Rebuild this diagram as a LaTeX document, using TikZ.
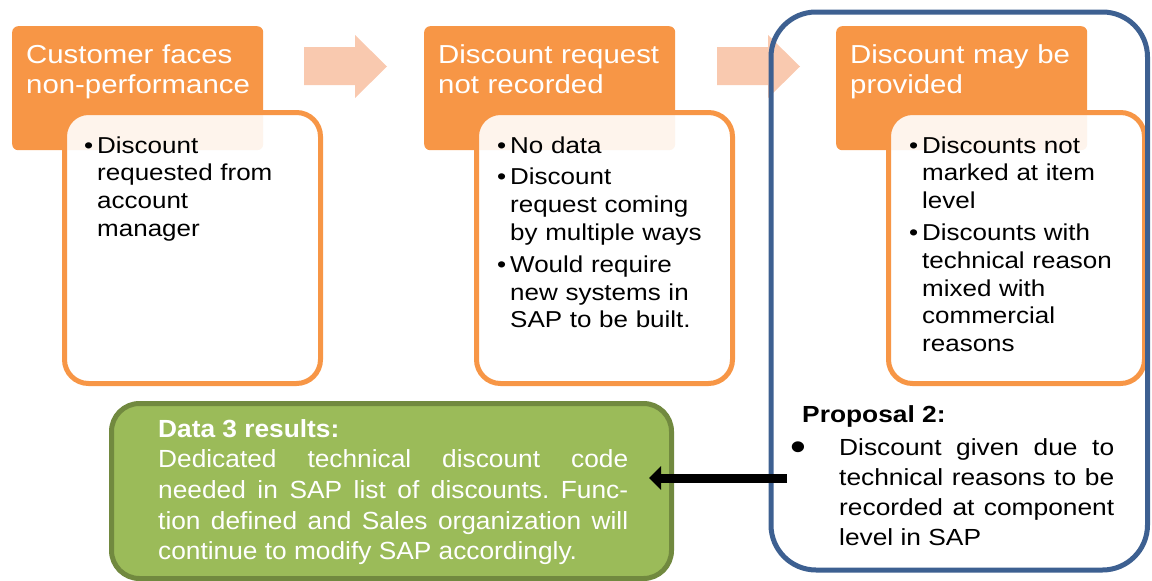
\documentclass[tikz,border=0pt]{standalone}
\usepackage{fontspec}
\setmainfont{Liberation Sans}[FakeStretch=1.13]
\newfontfamily\narrowsans{Liberation Sans}[FakeStretch=1.06]
\usepackage{xcolor}
\usetikzlibrary{arrows.meta}
\setlength{\parindent}{0pt}
\frenchspacing

\definecolor{headorange}{RGB}{247,150,70}
\definecolor{flowpeach}{RGB}{249,201,175}
\definecolor{frameblue}{RGB}{61,96,145}
\definecolor{resgreen}{RGB}{155,187,89}
\definecolor{resgreenline}{RGB}{113,137,63}

\newcommand{\itembul}{\leavevmode\llap{\textbullet\kern4pt}}

\tikzset{
	headbox/.style={fill=headorange, rounded corners=6pt, inner sep=0pt,
		minimum width=251pt, minimum height=124pt, anchor=north west},
	headtext/.style={text=white, align=left, text width=240pt, inner sep=0pt,
		anchor=base west, font=\fontsize{26}{30}\selectfont},
	bodybox/.style={draw=headorange, line width=5pt, fill=white, fill opacity=0.9,
		rounded corners=24pt, inner sep=0pt, minimum width=256pt, minimum height=271pt,
		anchor=north west},
	bodytext/.style={align=left, text width=215pt, inner sep=0pt, anchor=base west,
		font=\fontsize{23}{27.8}\selectfont},
	flowarrow/.style={fill=flowpeach},
	resbox/.style={fill=resgreen, draw=resgreenline, line width=5pt, rounded corners=28pt,
		inner sep=0pt, minimum width=560pt, minimum height=175pt, anchor=north west},
	restext/.style={text=white, align=justify, text width=470pt, inner sep=0pt,
		anchor=base west, font=\narrowsans\fontsize{24.8}{30.7}\selectfont},
	proptext/.style={inner sep=0pt, anchor=base west, font=\fontsize{23.3}{30.3}\selectfont},
	resarrow/.style={line width=9pt, -{Triangle[length=12pt,width=23pt]}},
}

\begin{document}
\begin{tikzpicture}[x=1pt, y=-1pt]
	\useasboundingbox (0,0) rectangle (1152,581);

	% flow arrows between the steps
	\foreach \dx in {0,413} {
		\fill[flowarrow, shift={(\dx,0)}] (304,47) -- (355,47) -- (355,35) -- (387,66.5)
			-- (355,98) -- (355,85) -- (304,85) -- cycle;
	}

	% step headers
	\node[headbox] (h1) at (12,26) {};
	\node[headbox] (h2) at (424,26) {};
	\node[headbox] (h3) at (836,26) {};

	% step details
	\node[bodybox] (b1) at (62,110) {};
	\node[bodybox] (b2) at (474,110) {};
	\node[bodybox] (b3) at (886,110) {};

	\node[headtext] (h1t) at (26,63) {Customer faces\\non-performance};
	\node[headtext] (h2t) at (438,63) {Discount request\\not recorded};
	\node[headtext] (h3t) at (850,63) {Discount may be\\provided};

	\node[bodytext] (b1t) at (97,153) {\itembul Discount\\requested from\\account\\manager};
	\node[bodytext] (b2t) at (510,153) {\itembul No data\\[4pt]
		\itembul Discount\\request coming\\by multiple ways\\[4pt]
		\itembul Would require\\new systems in\\SAP to be built.};
	\node[bodytext] (b3t) at (922,153) {\itembul Discounts not\\marked at item\\level\\[4pt]
		\itembul Discounts with\\technical reason\\mixed with\\commercial\\reasons};

	% proposal frame
	\draw[frameblue, line width=5pt, rounded corners=45pt] (771,12) rectangle (1147.5,570);
	\node[proptext] (ptitle) at (802,422) {\textbf{Proposal 2:}};
	\node[proptext, align=justify, text width=275pt] (ptext) at (839,455)
		{\leavevmode\llap{\raisebox{-5pt}{\fontsize{40}{40}\selectfont\textbullet}\kern33pt}Discount given due to\linebreak
		technical reasons to be\linebreak recorded at component\linebreak level in SAP};

	% results
	\node[resbox] (res) at (109,401) {};
	\node[restext] (rest) at (158,437) {\textbf{Data 3 results:}\\
		Dedicated technical discount code\linebreak
		needed in SAP list of discounts. Func-\linebreak
		tion defined and Sales organization will\linebreak
		continue to modify SAP accordingly.};

	\coordinate (pout) at (787,478);
	\coordinate (rin) at (649,478);
	\draw[resarrow] (pout) -- (rin);
\end{tikzpicture}
\end{document}
